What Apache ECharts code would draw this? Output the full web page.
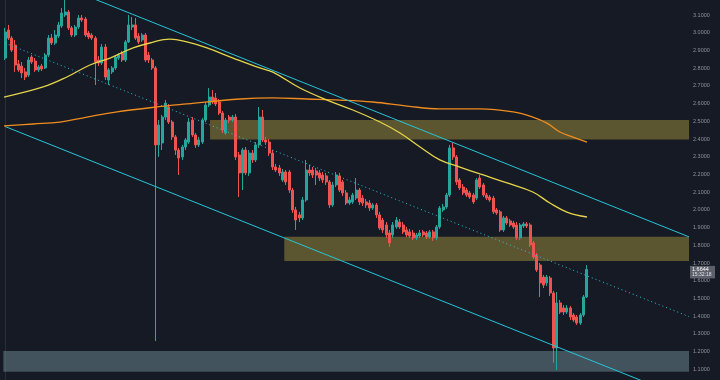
<!DOCTYPE html>
<html><head><meta charset="utf-8">
<script src="https://cdn.jsdelivr.net/npm/echarts@6/dist/echarts.min.js"></script>
<style>html,body{margin:0;padding:0;background:#161a25;}#c{width:720px;height:380px;}</style>
</head><body><div id="c"></div>
<script>
// ---- candle data (price) ----
const openPrices = [2.857,3.015,2.970,2.930,2.824,2.812,2.779,2.761,2.863,2.840,
2.790,2.812,2.801,2.874,2.970,2.942,2.981,3.038,3.100,3.117,
3.027,2.987,3.032,3.083,3.077,2.998,2.987,2.970,2.846,2.829,
2.919,2.733,2.779,2.801,2.857,2.885,2.846,2.948,3.032,3.044,
2.981,2.959,2.987,2.874,2.846,2.801,2.367,2.378,2.524,2.581,
2.496,2.412,2.338,2.299,2.355,2.383,2.507,2.423,2.367,2.383,
2.507,2.592,2.637,2.632,2.609,2.547,2.434,2.524,2.507,2.524,
2.310,2.209,2.338,2.209,2.321,2.282,2.367,2.524,2.395,2.383,
2.321,2.242,2.237,2.169,2.214,2.214,2.112,2.000,1.972,1.955,
2.056,2.225,2.225,2.220,2.209,2.197,2.192,2.158,2.028,2.141,
2.192,2.158,2.096,2.039,2.045,2.067,2.112,2.067,2.045,2.039,
2.011,2.028,1.972,1.943,1.915,1.870,1.859,1.904,1.932,1.915,
1.887,1.876,1.870,1.842,1.853,1.876,1.870,1.847,1.876,1.842,
1.904,2.000,2.017,2.084,2.350,2.299,2.169,2.129,2.112,2.096,
2.084,2.067,2.180,2.141,2.084,2.073,2.067,2.000,1.989,1.887,
1.955,1.938,1.926,1.915,1.842,1.909,1.921,1.915,1.814,1.745,
1.689,1.621,1.588,1.616,1.531,1.221,1.475,1.447,1.424,1.447,
1.407,1.396,1.362,1.407,1.509];
const closePrices = [3.004,2.970,2.902,2.818,2.790,2.773,2.750,2.846,2.835,2.790,
2.807,2.795,2.874,2.970,2.942,2.987,3.044,3.111,3.117,3.027,
2.987,3.032,3.083,3.072,2.987,2.976,2.970,2.835,2.829,2.919,
2.750,2.790,2.801,2.863,2.874,2.846,2.948,3.044,3.044,2.970,
2.948,2.987,2.846,2.846,2.801,2.367,2.479,2.524,2.603,2.496,
2.412,2.338,2.293,2.355,2.395,2.496,2.423,2.367,2.395,2.507,
2.592,2.637,2.609,2.598,2.547,2.451,2.507,2.507,2.524,2.299,
2.209,2.338,2.209,2.321,2.282,2.367,2.524,2.395,2.383,2.321,
2.242,2.225,2.209,2.214,2.158,2.112,2.000,1.943,1.955,2.056,
2.225,2.209,2.197,2.197,2.180,2.169,2.158,2.028,2.141,2.197,
2.112,2.096,2.039,2.056,2.084,2.112,2.045,2.039,2.028,2.011,
2.028,1.972,1.898,1.887,1.859,1.814,1.915,1.943,1.904,1.876,
1.859,1.853,1.842,1.859,1.870,1.859,1.847,1.876,1.842,1.904,
2.011,2.017,2.084,2.350,2.299,2.158,2.124,2.096,2.084,2.073,
2.045,2.169,2.129,2.084,2.067,2.056,1.989,1.983,1.887,1.955,
1.926,1.915,1.904,1.842,1.915,1.921,1.909,1.802,1.734,1.661,
1.588,1.576,1.621,1.531,1.221,1.475,1.424,1.424,1.447,1.396,
1.379,1.362,1.407,1.509,1.6644];
const lowPrices = [2.846,2.959,2.891,2.779,2.779,2.744,2.733,2.750,2.824,2.779,
2.779,2.784,2.795,2.863,2.931,2.931,2.970,3.027,3.089,3.015,
2.976,2.976,3.021,3.061,2.976,2.964,2.959,2.705,2.812,2.818,
2.733,2.705,2.767,2.790,2.846,2.835,2.835,2.942,3.015,2.959,
2.936,2.948,2.835,2.829,2.790,1.260,2.299,2.338,2.507,2.485,
2.395,2.310,2.197,2.282,2.338,2.372,2.412,2.350,2.355,2.372,
2.496,2.581,2.598,2.586,2.536,2.434,2.423,2.490,2.496,2.282,
2.073,2.112,2.197,2.192,2.265,2.270,2.350,2.383,2.367,2.304,
2.225,2.214,2.192,2.158,2.141,2.096,1.983,1.887,1.932,1.943,
2.045,2.192,2.180,2.141,2.163,2.152,2.141,2.011,2.017,2.129,
2.101,2.079,2.028,2.028,2.034,2.056,2.028,2.022,2.011,1.994,
2.000,1.955,1.887,1.870,1.842,1.791,1.842,1.893,1.893,1.864,
1.847,1.842,1.830,1.830,1.842,1.847,1.836,1.836,1.825,1.830,
1.893,1.989,2.006,2.073,2.282,2.141,2.112,2.084,2.073,2.062,
2.034,2.056,2.118,2.073,2.056,2.045,1.977,1.972,1.876,1.876,
1.915,1.904,1.893,1.830,1.830,1.898,1.898,1.791,1.723,1.650,
1.509,1.559,1.571,1.514,1.137,1.097,1.413,1.407,1.413,1.379,
1.368,1.351,1.351,1.396,1.503];
const highPrices = [3.027,3.044,2.981,2.959,2.846,2.835,2.801,2.863,2.874,2.857,
2.818,2.824,2.885,2.987,2.993,3.015,3.061,3.139,3.185,3.128,
3.038,3.044,3.100,3.100,3.089,3.010,2.998,2.981,2.869,2.936,
2.936,2.801,2.812,2.874,2.885,2.897,2.959,3.100,3.089,3.083,
2.998,2.998,2.998,2.891,2.857,2.812,2.507,2.536,2.620,2.598,
2.507,2.423,2.350,2.367,2.406,2.519,2.524,2.434,2.412,2.519,
2.609,2.688,2.677,2.660,2.626,2.558,2.519,2.536,2.536,2.541,
2.327,2.350,2.355,2.338,2.338,2.383,2.581,2.564,2.412,2.400,
2.338,2.259,2.254,2.231,2.225,2.225,2.124,2.017,1.989,2.073,
2.282,2.254,2.242,2.237,2.225,2.214,2.209,2.169,2.158,2.214,
2.209,2.169,2.112,2.073,2.096,2.180,2.124,2.084,2.062,2.056,
2.039,2.039,1.989,1.955,1.932,1.887,1.932,1.960,1.949,1.932,
1.904,1.893,1.887,1.870,1.887,1.887,1.881,1.887,1.887,1.915,
2.022,2.034,2.096,2.367,2.378,2.310,2.180,2.146,2.124,2.107,
2.096,2.180,2.197,2.152,2.096,2.084,2.079,2.011,2.000,1.966,
1.966,1.949,1.938,1.932,1.926,1.932,1.932,1.926,1.825,1.757,
1.701,1.633,1.633,1.627,1.543,1.537,1.492,1.463,1.463,1.458,
1.418,1.407,1.418,1.520,1.689];

// ---- moving averages: [bar index, price] ----
const maFast = [[-0.3,2.637],[11.4,2.694],[18.5,2.750],[25.4,2.818],[31.4,2.857],[38.3,2.914],
[43.3,2.942],[49.3,2.964],[54.4,2.948],[60.4,2.914],[68.2,2.857],[76.2,2.801],[80.1,2.778],
[88.2,2.688],[96.3,2.620],[104.0,2.564],[112.1,2.496],[118.1,2.434],[124.1,2.355],[130.0,2.282],
[136.0,2.242],[142.0,2.203],[150.1,2.152],[157.8,2.101],[162.9,2.039],[168.0,1.988],[174,1.960]];
const maSlow = [[-0.3,2.474],[8.4,2.485],[16.4,2.496],[24.5,2.524],[33.5,2.553],[45.4,2.581],
[54.4,2.598],[70.3,2.626],[80.1,2.632],[90.3,2.626],[100.1,2.620],[110.0,2.609],[120.2,2.586],
[130.0,2.570],[142.0,2.570],[151.9,2.553],[157.8,2.524],[162.0,2.490],[165.9,2.440],[169.8,2.411],[174,2.383]];

// ---- channel lines: [bar index, price] ----
const channelUpper = [[0,3.392],[204.5,1.848]];
const channelMid = [[0,2.942],[204.5,1.398]];
const channelLower = [[0,2.471],[204.5,0.930]];

// ---- zones: [start index, end index, top price, bottom price] ----
const zoneResistance = [61.3, 204.5, 2.507, 2.398];
const zoneSupport = [83.5, 204.5, 1.849, 1.712];
const zoneLow = [-0.5, 204.5, 1.204, 1.087];

// ---- price axis ----
const priceMin = 1.0, priceMax = 3.2, priceStep = 0.1;
const slotCount = 205;
const lastLabelTime = '15:32:18';

const categories = [];
for (let i = 0; i < slotCount; i++) categories.push(String(i));
const candles = openPrices.map((o, i) => [o, closePrices[i], lowPrices[i], highPrices[i]]);

const UP = '#26a69a', DOWN = '#ef5350', CYAN = '#26c6da';
function zoneItem(z, fill, border) {
  return [{xAxis: z[0], yAxis: z[2], itemStyle: {color: fill, borderColor: border, borderWidth: border ? 1 : 0}},
          {xAxis: z[1], yAxis: z[3]}];
}

const chart = echarts.init(document.getElementById('c'), null, {renderer: 'canvas'});
const option = {
  animation: false,
  backgroundColor: '#161a25',
  grid: {left: 3.33, right: 31, top: -2.72, bottom: -7.12, containLabel: false, outerBoundsMode: 'none'},
  xAxis: [
    {type: 'category', data: categories, boundaryGap: true, show: false},
    {type: 'value', min: -0.5, max: slotCount - 0.5, show: false}
  ],
  yAxis: [{
    type: 'value', position: 'right', min: priceMin, max: priceMax, interval: priceStep, scale: true,
    axisLine: {show: true, lineStyle: {color: '#2a2e39', width: 1}},
    axisTick: {show: false},
    splitLine: {show: false},
    axisLabel: {show: true, showMinLabel: false, showMaxLabel: false, margin: 4,
      color: '#8f939c', fontSize: 5.5, fontFamily: 'Liberation Sans',
      formatter: v => v.toFixed(4)}
  }],
  series: [
    {type: 'line', xAxisIndex: 1, data: channelLower, z: 1, silent: true, showSymbol: false,
     lineStyle: {opacity: 0},
     markArea: {silent: true, z: 1, data: [
       zoneItem(zoneResistance, 'rgba(160,146,58,0.50)', null),
       zoneItem(zoneSupport, 'rgba(160,146,58,0.50)', null),
       zoneItem(zoneLow, 'rgba(110,140,152,0.50)', null)
     ]}},
    {type: 'candlestick', xAxisIndex: 0, data: candles, z: 3, barWidth: 2.5,
     itemStyle: {color: UP, color0: DOWN, borderColor: UP, borderColor0: DOWN, borderWidth: 1}},
    {type: 'line', xAxisIndex: 1, data: maSlow, smooth: 0.4, showSymbol: false, z: 4, silent: true,
     lineStyle: {color: '#f08c1e', width: 1.3}},
    {type: 'line', xAxisIndex: 1, data: maFast, smooth: 0.4, showSymbol: false, z: 4, silent: true,
     lineStyle: {color: '#e6d44a', width: 1.3}},
    {type: 'line', xAxisIndex: 1, data: channelUpper, showSymbol: false, z: 5, silent: true,
     lineStyle: {color: CYAN, width: 1}},
    {type: 'line', xAxisIndex: 1, data: channelLower, showSymbol: false, z: 5, silent: true,
     lineStyle: {color: CYAN, width: 1}},
    {type: 'line', xAxisIndex: 1, data: channelMid, showSymbol: false, z: 5, silent: true,
     lineStyle: {color: CYAN, width: 1, type: [1, 3]}}
  ]
};
chart.setOption(option);

const lastClose = closePrices[closePrices.length - 1];
const py = chart.convertToPixel({yAxisIndex: 0}, lastClose);
chart.setOption({graphic: [
  {type: 'rect', shape: {x: 690, y: py - 3.5, width: 25, height: 12.5}, style: {fill: '#5d606b'}, z: 100},
  {type: 'text', x: 692, y: py - 2.5, style: {text: lastClose.toFixed(4), fill: '#ffffff', fontSize: 5.5, fontFamily: 'Liberation Sans'}, z: 101},
  {type: 'text', x: 692, y: py + 3, style: {text: lastLabelTime, fill: '#e0e2e8', fontSize: 5, fontFamily: 'Liberation Sans'}, z: 101}
]});
</script></body></html>
